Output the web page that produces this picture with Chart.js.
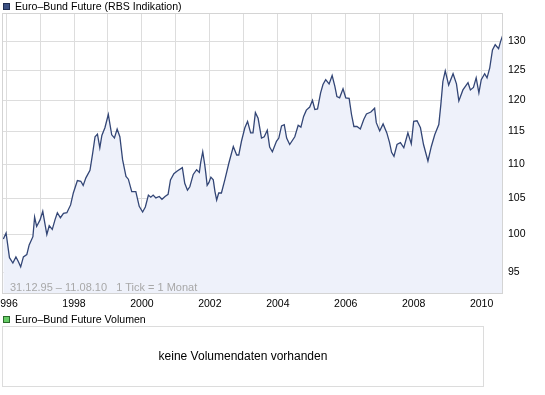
<!DOCTYPE html>
<html>
<head>
<meta charset="utf-8">
<script src="https://cdn.jsdelivr.net/npm/chart.js@4/dist/chart.umd.min.js"></script>
<style>
  html, body { margin: 0; padding: 0; background: #fff; }
  #wrap { position: relative; width: 545px; height: 395px; overflow: hidden; font-family: "Liberation Sans", Arial, sans-serif; }
  #c { position: absolute; left: 0; top: 0; }
  .lg { position: absolute; left: 3px; font-size: 10.6px; line-height: 11px; color: #000; white-space: nowrap; }
  .lg .sq { position: absolute; left: 0; top: 2px; width: 5px; height: 5px; border: 1px solid #333; }
  .lg .tx { position: absolute; left: 12px; top: 0; }
  #range { position: absolute; left: 10px; top: 281px; font-size: 11px; line-height: 12px; color: #a8a8a8; white-space: pre; }
  #vol { position: absolute; left: 2px; top: 326px; width: 480px; height: 59px; border: 1px solid #dcdcdc; }
  #vol span { position: absolute; left: 0; right: 0; top: 23px; text-align: center; font-size: 12px; line-height: 13px; color: #000; }
</style>
</head>
<body>
<div id="wrap">
  <canvas id="c" width="545" height="315"></canvas>
  <div class="lg" style="top:1px;width:300px;height:12px"><div class="sq" style="background:#3c5183;border-color:#1f2d52"></div><span class="tx">Euro–Bund Future (RBS Indikation)</span></div>
  <div id="range">31.12.95 – 11.08.10   1 Tick = 1 Monat</div>
  <div class="lg" style="top:314px;width:300px;height:12px"><div class="sq" style="background:#66cc66;border-color:#2a6a2a"></div><span class="tx">Euro–Bund Future Volumen</span></div>
  <div id="vol"><span>keine Volumendaten vorhanden</span></div>
</div>
<script>
// Decimal-year dates of the points
const dates = [
  1995.92,1996.00,1996.10,1996.20,1996.29,1996.36,1996.43,1996.51,1996.61,1996.68,1996.79,1996.84,1996.90,
  1997.00,1997.08,1997.20,1997.27,1997.36,1997.44,1997.51,1997.60,1997.69,1997.79,1997.90,1997.98,
  1998.10,1998.20,1998.27,1998.35,1998.47,1998.55,1998.62,1998.69,1998.76,1998.82,1998.91,
  1999.01,1999.11,1999.19,1999.27,1999.35,1999.43,1999.53,1999.60,1999.70,1999.82,1999.92,
  2000.02,2000.10,2000.19,2000.26,2000.33,2000.41,2000.51,2000.59,2000.68,2000.77,2000.84,2000.94,
  2001.04,2001.19,2001.26,2001.34,2001.41,2001.51,2001.61,2001.69,2001.73,2001.79,2001.85,2001.88,2001.92,2001.97,
  2002.03,2002.10,2002.15,2002.20,2002.26,2002.34,2002.44,2002.56,2002.69,2002.79,2002.85,2002.93,
  2003.03,2003.11,2003.20,2003.27,2003.34,2003.42,2003.52,2003.60,2003.69,2003.76,2003.84,2003.96,
  2004.03,2004.11,2004.19,2004.26,2004.35,2004.50,2004.60,2004.68,2004.76,2004.84,2004.94,
  2005.02,2005.09,2005.17,2005.26,2005.33,2005.41,2005.51,2005.60,2005.68,2005.74,2005.82,2005.92,
  2006.00,2006.10,2006.17,2006.24,2006.33,2006.43,2006.53,2006.61,2006.74,2006.85,2006.90,
  2007.00,2007.10,2007.21,2007.29,2007.35,2007.42,2007.51,2007.61,2007.71,2007.83,2007.93,
  2008.00,2008.10,2008.20,2008.29,2008.42,2008.52,2008.62,2008.74,2008.80,2008.86,2008.93,
  2009.03,2009.16,2009.26,2009.33,2009.45,2009.60,2009.67,2009.76,2009.84,2009.92,2009.99,
  2010.09,2010.16,2010.24,2010.32,2010.40,2010.50,2010.56,2010.63
];
// Euro-Bund Future price
const prices = [
  99.4,100.2,96.9,96.2,97.0,96.4,95.7,97.0,97.3,98.6,99.7,102.4,101.1,
  102.0,103.2,100.0,101.2,100.7,102.0,103.0,102.3,102.9,103.0,104.1,105.8,
  107.6,107.5,106.9,108.0,109.1,111.7,114.2,114.6,112.5,114.4,115.6,
  117.7,114.5,114.0,115.4,114.2,110.7,108.2,107.8,106.0,106.0,103.9,
  103.1,103.8,105.5,105.2,105.5,105.1,105.3,104.9,105.3,105.6,107.7,108.6,
  109.0,109.5,107.2,106.2,106.7,108.5,109.2,108.8,110.3,111.9,109.9,108.7,106.9,107.3,
  108.1,107.7,106.0,104.8,105.8,105.8,107.7,110.2,112.7,111.4,111.4,113.5,
  115.6,116.6,114.8,114.8,118.0,117.1,114.0,114.2,115.2,112.6,111.9,113.5,
  114.0,115.9,116.1,114.0,113.0,114.2,116.0,115.7,117.4,118.4,118.9,
  120.0,118.5,118.6,121.2,122.6,123.4,122.7,124.1,122.3,120.6,120.4,121.9,
  120.4,120.3,117.7,115.8,115.8,115.4,116.9,117.8,118.1,118.7,116.4,
  115.1,116.2,114.8,113.3,111.8,111.2,113.0,113.3,112.5,114.8,113.1,
  116.6,116.7,115.6,113.0,110.5,112.7,114.5,116.1,119.3,123.1,124.9,
  122.5,124.4,122.7,119.9,121.7,122.9,121.7,122.1,123.7,121.2,123.4,
  124.4,123.7,125.4,128.5,129.4,128.7,130.0,131.2
];
const yTicks = [95, 100, 105, 110, 115, 120, 125, 130];
const xTicks = [1996,1997,1998,1999,2000,2001,2002,2003,2004,2005,2006,2007,2008,2009,2010];

const framePlugin = {
  id: 'frame',
  afterDatasetsDraw(chart) {
    const a = chart.chartArea, ctx = chart.ctx;
    ctx.save();
    ctx.strokeStyle = '#d4d4d4';
    ctx.lineWidth = 1;
    ctx.strokeRect(Math.round(a.left) + 0.5, Math.round(a.top) + 0.5, Math.round(a.right - a.left) - 1, Math.round(a.bottom - a.top));
    ctx.restore();
  }
};

new Chart(document.getElementById('c'), {
  type: 'line',
  data: {
    datasets: [{
      label: 'Euro–Bund Future (RBS Indikation)',
      data: dates.map((d, i) => ({ x: d, y: prices[i] })),
      borderColor: '#334676',
      borderWidth: 1.3,
      backgroundColor: '#eef1fa',
      fill: 'start',
      pointRadius: 0,
      tension: 0
    }]
  },
  options: {
    responsive: false,
    animation: false,
    events: [],
    layout: { padding: { left: 2, top: 13, right: 0, bottom: 0 } },
    plugins: { legend: { display: false }, tooltip: { enabled: false } },
    scales: {
      x: {
        type: 'linear',
        min: 1995.88,
        max: 2010.63,
        afterBuildTicks(s) { s.ticks = xTicks.map(v => ({ value: v })); },
        afterFit(s) { s.height = 22; s.paddingLeft = 0; s.paddingRight = 0; },
        grid: { color: '#dddddd', lineWidth: 1, drawTicks: false },
        border: { display: false },
        ticks: {
          autoSkip: false, maxRotation: 0, padding: 5,
          color: '#000', font: { family: 'Liberation Sans', size: 10.5 },
          callback: v => (v % 2 === 0 ? String(v) : '')
        }
      },
      y: {
        type: 'logarithmic',
        position: 'right',
        min: 92.36,
        max: 135.1,
        afterBuildTicks(s) { s.ticks = yTicks.map(v => ({ value: v })); },
        afterFit(s) { s.width = 42; s.paddingTop = 0; s.paddingBottom = 0; },
        grid: { color: '#dddddd', lineWidth: 1, drawTicks: false },
        border: { display: false },
        ticks: {
          padding: 5, color: '#000', font: { family: 'Liberation Sans', size: 10.5 },
          callback: v => String(v)
        }
      }
    }
  },
  plugins: [framePlugin]
});
</script>
</body>
</html>
